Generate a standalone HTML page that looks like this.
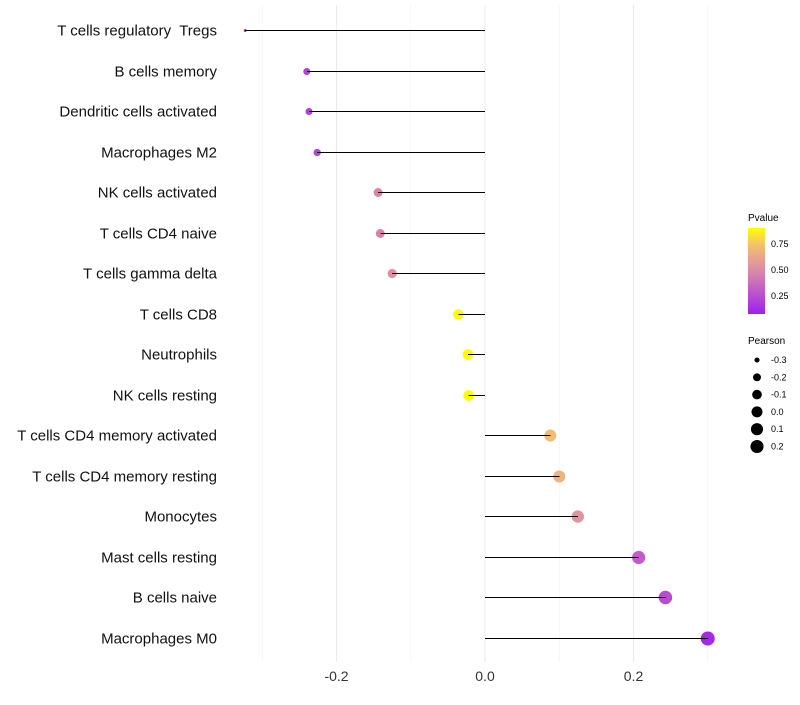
<!DOCTYPE html>
<html><head><meta charset="utf-8"><style>
body{margin:0;background:#fff;font-family:"Liberation Sans",sans-serif}
text{white-space:pre}
</style></head><body>
<svg id="c" width="800" height="700">
<defs><linearGradient id="g" x1="0" y1="1" x2="0" y2="0">
<stop offset="0" stop-color="#a020f0"/><stop offset="0.5" stop-color="#d88aa8"/><stop offset="0.8" stop-color="#f3c070"/><stop offset="1" stop-color="#ffff00"/></linearGradient></defs>
<g id="grid"></g><g id="pts"></g><g id="marks"></g><g id="labels"></g>
<g font-size="9">
<text x="748" y="221" font-size="10">Pvalue</text>
<rect x="748" y="228" width="17" height="86" fill="url(#g)"/>
<text x="771" y="247">0.75</text><text x="771" y="273">0.50</text><text x="771" y="299">0.25</text>
<text x="748" y="344" font-size="10">Pearson</text>
<g id="sizeleg"></g>
</g>
</svg>
<script>
const categories=["T cells regulatory  Tregs","B cells memory","Dendritic cells activated","Macrophages M2","NK cells activated","T cells CD4 naive","T cells gamma delta","T cells CD8","Neutrophils","NK cells resting","T cells CD4 memory activated","T cells CD4 memory resting","Monocytes","Mast cells resting","B cells naive","Macrophages M0"];
const pearson=[-0.323,-0.240,-0.237,-0.226,-0.144,-0.141,-0.125,-0.036,-0.023,-0.022,0.088,0.100,0.125,0.207,0.243,0.300];
const pvalues=[0.08,0.2,0.2,0.22,0.45,0.45,0.5,0.92,0.92,0.92,0.72,0.67,0.52,0.3,0.24,0.1];
const xTicks=[-0.2,0,0.2];
const sizeLegend=[-0.3,-0.2,-0.1,0.0,0.1,0.2];
const NS="http://www.w3.org/2000/svg";
const X=v=>485+v*742.5, Y=i=>30+Math.round(i*40.5)+0.5, R=v=>1.5+7*Math.sqrt(Math.max(0,v+0.323));
function col(p){const t=Math.max(0,Math.min(1,(p-0.07)/0.83));
const st=[[0,[160,32,240]],[0.5,[222,140,165]],[0.8,[243,192,112]],[1,[255,255,0]]];
for(let k=1;k<st.length;k++){if(t<=st[k][0]){const a=st[k-1],b=st[k],f=(t-a[0])/(b[0]-a[0]);return `rgb(${a[1].map((c,j)=>Math.round(c+(b[1][j]-c)*f)).join(',')})`;}}return 'rgb(255,255,0)';}
function mk(tag,at,parent){const e=document.createElementNS(NS,tag);for(const k in at)e.setAttribute(k,at[k]);parent.appendChild(e);return e;}
const grid=document.getElementById('grid'),pts=document.getElementById('pts'),marks=document.getElementById('marks'),labels=document.getElementById('labels');
for(let v=-0.3;v<=0.31;v+=0.1){const g=mk('line',{x1:X(v),x2:X(v),y1:5,y2:662,stroke:Math.abs(Math.round(v*10))%2?'#f2f2f2':'#ebebeb','stroke-width':Math.abs(Math.round(v*10))%2?0.6:1.1},grid);

}
xTicks.forEach(t=>{const e=mk('text',{x:X(t),y:681,'text-anchor':'middle','font-size':14,fill:'#333'},labels);e.textContent=t.toFixed(1);

});
categories.forEach((c,i)=>{const y=Y(i);
const p=mk('circle',{cx:X(pearson[i]),cy:y,r:R(pearson[i]),fill:col(pvalues[i])},pts);


const l=mk('line',{x1:X(0),x2:X(pearson[i]),y1:y,y2:y,stroke:'#000','stroke-width':1,'shape-rendering':'crispEdges'},marks);


const t=mk('text',{x:217,y:y+5,'text-anchor':'end','font-size':15,fill:'#111'},labels);t.textContent=c;

});
const sl=document.getElementById('sizeleg');
sizeLegend.forEach((v,i)=>{const y=360+i*17.3;
const c=mk('circle',{cx:757,cy:y,r:R(v),fill:'#000'},sl);


const t=mk('text',{x:771,y:y+3},sl);t.textContent=v.toFixed(1);

});
</script>
</body></html>
